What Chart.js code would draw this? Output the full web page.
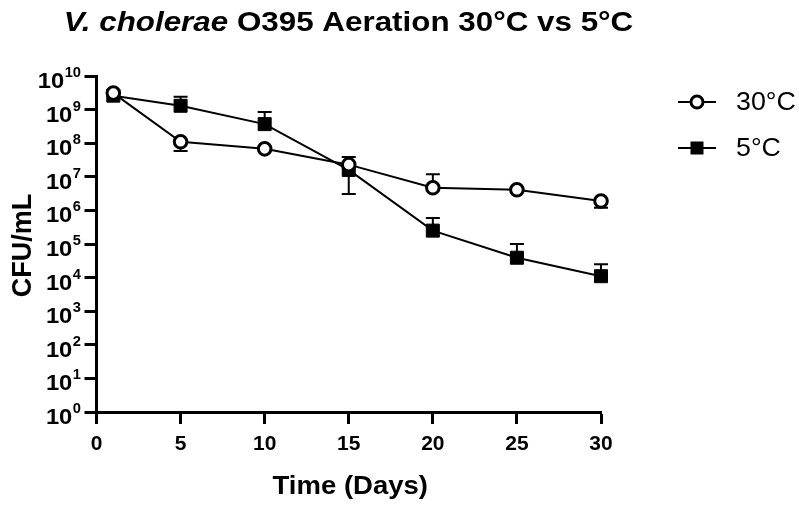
<!DOCTYPE html>
<html>
<head>
<meta charset="utf-8">
<script src="https://cdn.jsdelivr.net/npm/chart.js@4/dist/chart.umd.min.js"></script>
<style>
  html, body { margin: 0; padding: 0; background: #fff; }
  #wrap { width: 799px; height: 505px; }
</style>
</head>
<body>
<div id="wrap"><canvas id="c" width="799" height="505"></canvas></div>
<script>
// Sampling days and mean counts (CFU/mL) for each incubation temperature
const days = [1, 5, 10, 15, 20, 25, 30];
const cfu30C = [3.1e9, 1.1e8, 6.8e7, 2.3e7, 4.7e6, 4.1e6, 1.9e6];
const cfu5C  = [2.6e9, 1.3e9, 3.7e8, 1.6e7, 2.5e5, 3.9e4, 1.1e4];

// Error bar ends (null = no bar in that direction)
const err30CHigh = [null, null, null, null, 1.2e7, null, null];
const err30CLow  = [null, 5.9e7, null, null, null, null, 1.2e6];
const err5CHigh  = [null, 2.4e9, 8.5e8, 3.9e7, 5.9e5, 1.0e5, 2.5e4];
const err5CLow   = [null, null, null, 3.1e6, null, null, null];

// Axis ticks
const xTickValues = [0, 5, 10, 15, 20, 25, 30];
const yExponents = [0, 1, 2, 3, 4, 5, 6, 7, 8, 9, 10];

const seriesLabels = ['30°C', '5°C'];
const chartTitleItalic = 'V. cholerae';
const chartTitleRest = ' O395 Aeration 30°C vs 5°C';
const xTitle = 'Time (Days)';
const yTitle = 'CFU/mL';
const FONT = '"Liberation Sans", Arial, Helvetica, sans-serif';

const toPoints = (vals) => days.map((d, i) => ({ x: d, y: vals[i] }));

// Vertical error bars with a cap at the far end
const errorBars = {
  id: 'errorBars',
  beforeDatasetsDraw(chart) {
    const { ctx, scales: { x, y } } = chart;
    const sets = [[err30CHigh, err30CLow, cfu30C], [err5CHigh, err5CLow, cfu5C]];
    ctx.save();
    ctx.strokeStyle = '#000';
    ctx.lineWidth = 2;
    sets.forEach(([hi, lo, vals]) => {
      vals.forEach((v, i) => {
        const px = x.getPixelForValue(days[i]);
        const py = y.getPixelForValue(v);
        [hi[i], lo[i]].forEach(end => {
          if (end == null) return;
          const ey = y.getPixelForValue(end);
          ctx.beginPath();
          ctx.moveTo(px, py);
          ctx.lineTo(px, ey);
          ctx.moveTo(px - 7, ey);
          ctx.lineTo(px + 7, ey);
          ctx.stroke();
        });
      });
    });
    ctx.restore();
  }
};

// Text drawn with a slight horizontal widening; x is the left edge
function wideText(ctx, text, x, y, font, sx) {
  ctx.save();
  ctx.font = font;
  ctx.translate(x, y);
  ctx.scale(sx, 1);
  ctx.textAlign = 'left';
  ctx.fillText(text, 0, 0);
  ctx.restore();
}
function wideWidth(ctx, text, font, sx) {
  ctx.save();
  ctx.font = font;
  const w = ctx.measureText(text).width * sx;
  ctx.restore();
  return w;
}

// Title, axis labels, y title and legend
const decorations = {
  id: 'decorations',
  afterDraw(chart) {
    const { ctx, chartArea, scales: { x, y } } = chart;
    ctx.save();
    ctx.fillStyle = '#000';
    ctx.textBaseline = 'alphabetic';

    // Title with italic species name
    const tSx = 1.12;
    const italicFont = `italic bold 28px ${FONT}`;
    const boldFont = `bold 28px ${FONT}`;
    const w1 = wideWidth(ctx, chartTitleItalic, italicFont, tSx);
    const w2 = wideWidth(ctx, chartTitleRest, boldFont, tSx);
    const tx = 348.5 - (w1 + w2) / 2;
    wideText(ctx, chartTitleItalic, tx, 31, italicFont, tSx);
    wideText(ctx, chartTitleRest, tx + w1, 31, boldFont, tSx);

    // Powers-of-ten tick labels
    const right = 81;
    yExponents.forEach(e => {
      const py = y.getPixelForValue(Math.pow(10, e));
      const exp = String(e);
      const expFont = `bold 14px ${FONT}`;
      const baseFont = `bold 22px ${FONT}`;
      const ew = wideWidth(ctx, exp, expFont, 1.05);
      const bw = wideWidth(ctx, '10', baseFont, 1.08);
      wideText(ctx, exp, right - ew, py + 1, expFont, 1.05);
      wideText(ctx, '10', right - ew - 0.5 - bw, py + 12, baseFont, 1.08);
    });

    // X axis title
    const xFont = `bold 25px ${FONT}`;
    const xw = wideWidth(ctx, xTitle, xFont, 1.1);
    wideText(ctx, xTitle, (chartArea.left + chartArea.right) / 2 + 1.5 - xw / 2, 494, xFont, 1.1);

    // Y axis title
    ctx.save();
    ctx.translate(31, 245.5);
    ctx.rotate(-Math.PI / 2);
    ctx.textAlign = 'center';
    ctx.font = `bold 27px ${FONT}`;
    ctx.fillText(yTitle, 0, 0);
    ctx.restore();

    // Legend: line segment with marker, then label
    const rows = [{ y: 102, style: 'circle' }, { y: 148, style: 'rect' }];
    rows.forEach((row, i) => {
      ctx.strokeStyle = '#000';
      ctx.lineWidth = 2;
      ctx.beginPath();
      ctx.moveTo(678, row.y);
      ctx.lineTo(716, row.y);
      ctx.stroke();
      if (row.style === 'circle') {
        ctx.beginPath();
        ctx.arc(697, row.y, 6, 0, Math.PI * 2);
        ctx.fillStyle = '#fff';
        ctx.fill();
        ctx.lineWidth = 3;
        ctx.stroke();
      } else {
        ctx.fillStyle = '#000';
        ctx.fillRect(690.5, row.y - 6.5, 13, 13);
      }
      ctx.fillStyle = '#000';
      wideText(ctx, seriesLabels[i], 736, row.y + 7.5, `26px ${FONT}`, 1.03);
    });
    ctx.restore();
  }
};

new Chart(document.getElementById('c'), {
  type: 'line',
  data: {
    datasets: [
      {
        label: seriesLabels[0],
        data: toPoints(cfu30C),
        clip: false,
        borderColor: '#000',
        borderWidth: 2,
        pointStyle: 'circle',
        pointRadius: 6.3,
        pointBorderWidth: 3,
        pointBackgroundColor: '#fff',
        pointBorderColor: '#000',
        tension: 0
      },
      {
        label: seriesLabels[1],
        data: toPoints(cfu5C),
        clip: false,
        borderColor: '#000',
        borderWidth: 2,
        pointStyle: 'rect',
        pointRadius: 9.2,
        pointBorderWidth: 1,
        pointBackgroundColor: '#000',
        pointBorderColor: '#000',
        tension: 0
      }
    ]
  },
  options: {
    responsive: false,
    animation: false,
    events: [],
    layout: { padding: { left: 0, right: 198, top: 76, bottom: 0 } },
    plugins: { legend: { display: false }, tooltip: { enabled: false } },
    scales: {
      x: {
        type: 'linear',
        min: 0,
        max: 30,
        afterBuildTicks: s => { s.ticks = xTickValues.map(v => ({ value: v })); },
        afterFit: s => { s.height = 93; },
        border: { display: true, color: '#000', width: 3 },
        grid: { drawOnChartArea: false, color: '#000', tickColor: '#000', tickLength: 12, tickWidth: 3 },
        ticks: { color: '#000', padding: 8, maxRotation: 0, font: { family: FONT, size: 21, weight: 'bold' } },
        title: { display: false }
      },
      y: {
        type: 'logarithmic',
        min: 1,
        max: 1e10,
        afterBuildTicks: s => { s.ticks = yExponents.map(e => ({ value: Math.pow(10, e) })); },
        afterFit: s => { s.width = 96.5; },
        border: { display: true, color: '#000', width: 3 },
        grid: { drawOnChartArea: false, color: '#000', tickColor: '#000', tickLength: 12, tickWidth: 3 },
        ticks: { display: false }
      }
    }
  },
  plugins: [errorBars, decorations]
});
</script>
</body>
</html>
